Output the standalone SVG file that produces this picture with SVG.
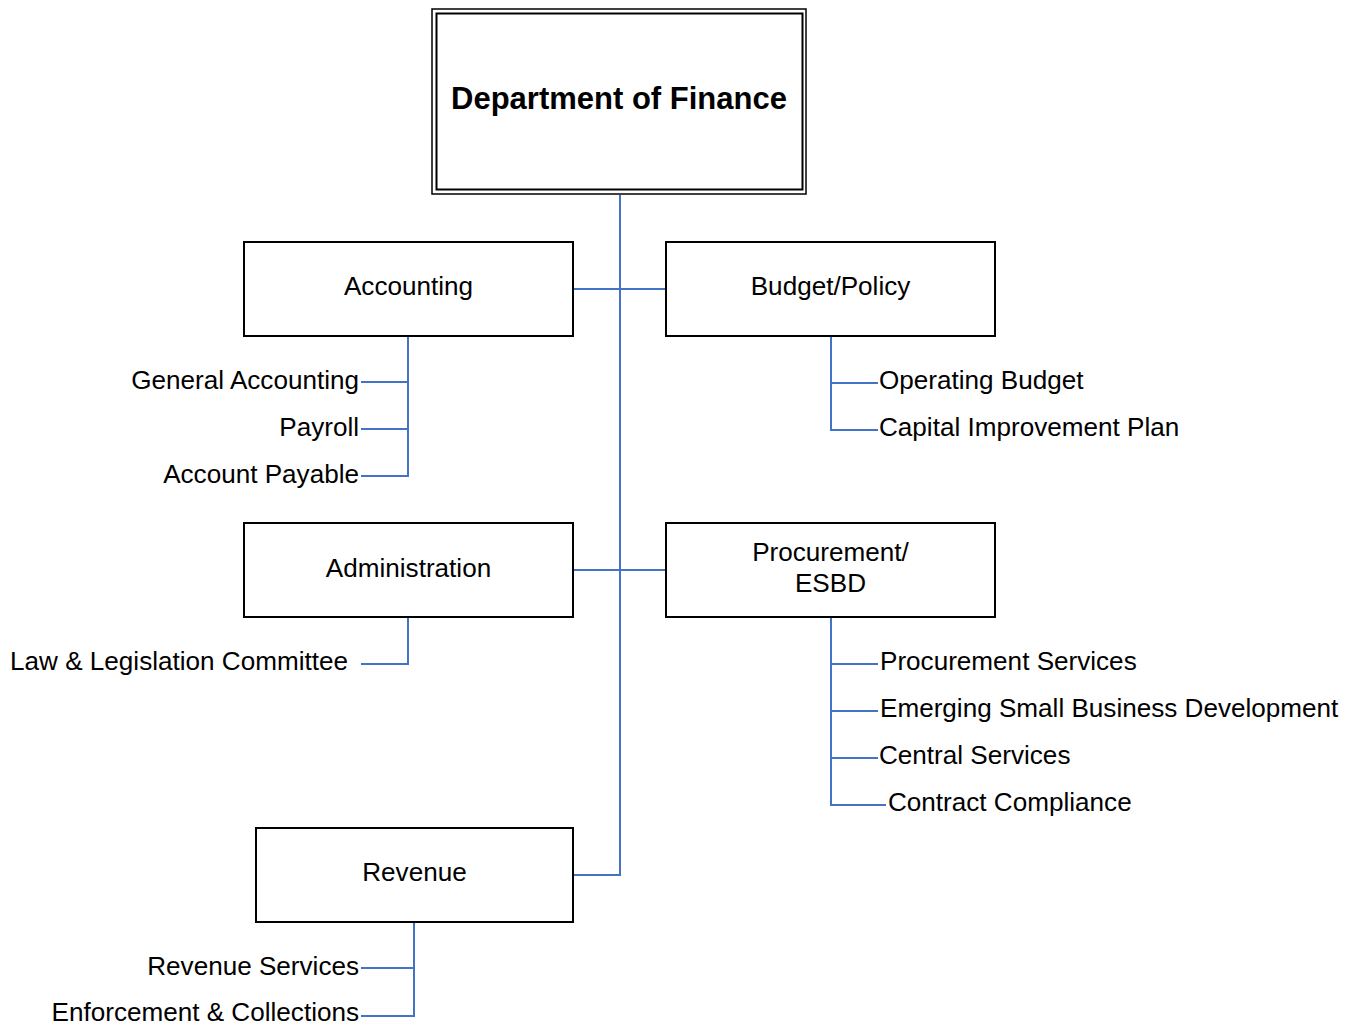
<svg xmlns="http://www.w3.org/2000/svg" width="1357" height="1028" viewBox="0 0 1357 1028">
<style>
.box{fill:#fff;stroke:#000;stroke-width:2}
.t{font-family:"Liberation Sans",Arial,sans-serif;font-size:26.1px;fill:#000}
.c{text-anchor:middle}
.r{text-anchor:end}
.title{font-family:"Liberation Sans",Arial,sans-serif;font-size:31px;font-weight:bold;fill:#000;text-anchor:middle}
.ln{fill:none;stroke:#4472C4;stroke-width:2}
</style>
<rect width="1357" height="1028" fill="#fff"/>
<g id="connectors">
<path class="ln" d="M620 195 V875 H573"/>
<path class="ln" d="M573 289 H666"/>
<path class="ln" d="M573 570 H666"/>
<path class="ln" d="M408 336 V476 H361 M361 382 H408 M361 429 H408"/>
<path class="ln" d="M831 336 V430 H878 M831 383 H878"/>
<path class="ln" d="M408 617 V664 H361"/>
<path class="ln" d="M831 617 V805 H886 M831 664 H878 M831 711 H878 M831 758 H878"/>
<path class="ln" d="M414 922 V1016 H361 M361 968 H414"/>
</g>
<g id="dept">
<rect x="432" y="9" width="374" height="185" fill="#fff" stroke="#000" stroke-width="1.5"/>
<rect x="436.5" y="13.5" width="366" height="176" fill="none" stroke="#000" stroke-width="2"/>
<text class="title" x="619" y="109">Department of Finance</text>
</g>
<g id="accounting">
<rect class="box" x="244" y="242" width="329" height="94"/>
<text class="t c" x="408.5" y="295">Accounting</text>
</g>
<g id="budget">
<rect class="box" x="666" y="242" width="329" height="94"/>
<text class="t c" x="830.5" y="295">Budget/Policy</text>
</g>
<g id="administration">
<rect class="box" x="244" y="523" width="329" height="94"/>
<text class="t c" x="408.5" y="577">Administration</text>
</g>
<g id="procurement">
<rect class="box" x="666" y="523" width="329" height="94"/>
<text class="t c" x="830.5" y="561">Procurement/</text>
<text class="t c" x="830.5" y="592">ESBD</text>
</g>
<g id="revenue">
<rect class="box" x="256" y="828" width="317" height="94"/>
<text class="t c" x="414.5" y="881">Revenue</text>
</g>
<g id="acc-subs">
<text class="t r" x="359" y="389">General Accounting</text>
<text class="t r" x="359" y="436">Payroll</text>
<text class="t r" x="359" y="483">Account Payable</text>
</g>
<g id="bud-subs">
<text class="t" x="879" y="389">Operating Budget</text>
<text class="t" x="879" y="436">Capital Improvement Plan</text>
</g>
<g id="adm-subs">
<text class="t r" x="348" y="670">Law &amp; Legislation Committee</text>
</g>
<g id="proc-subs">
<text class="t" x="880" y="670">Procurement Services</text>
<text class="t" x="880" y="717">Emerging Small Business Development</text>
<text class="t" x="879" y="764">Central Services</text>
<text class="t" x="888" y="811">Contract Compliance</text>
</g>
<g id="rev-subs">
<text class="t r" x="359" y="975">Revenue Services</text>
<text class="t r" x="359" y="1021">Enforcement &amp; Collections</text>
</g>
</svg>
